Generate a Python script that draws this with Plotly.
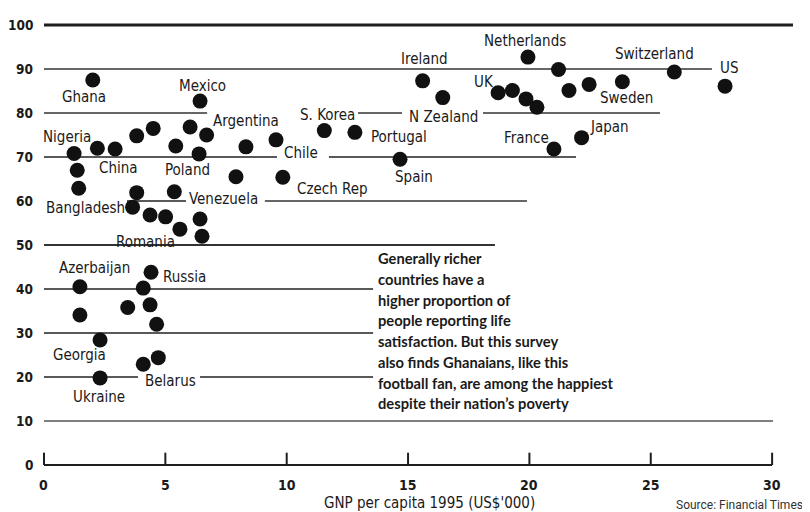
import plotly.graph_objects as go

# ---- data -------------------------------------------------------------
gnp_per_capita = [2.01, 6.43, 4.50, 3.82, 6.02, 6.70, 2.20, 2.93, 5.43, 6.39, 8.32,
                  1.24, 1.37, 1.43, 3.82, 5.37, 7.91, 3.65, 4.37, 5.01, 5.60, 6.43,
                  6.51, 9.56, 9.84, 11.55, 12.81, 14.67, 15.60, 16.43, 19.94, 18.71,
                  19.30, 19.86, 20.31, 21.20, 21.63, 22.46, 23.83, 25.97, 28.06, 21.01,
                  22.15, 1.48, 1.48, 2.31, 2.31, 3.45, 4.09, 4.41, 4.37, 4.64, 4.09, 4.71]
life_satisfaction = [87.5, 82.7, 76.5, 74.8, 76.8, 75.0, 72.0, 71.8, 72.5, 70.7, 72.3,
                     70.8, 67.0, 62.9, 61.9, 62.1, 65.5, 58.6, 56.8, 56.4, 53.6, 55.9,
                     52.0, 73.9, 65.4, 76.0, 75.6, 69.5, 87.3, 83.5, 92.7, 84.6,
                     85.1, 83.2, 81.3, 89.9, 85.1, 86.5, 87.1, 89.3, 86.1, 71.8,
                     74.4, 40.5, 34.1, 28.4, 19.8, 35.8, 40.2, 43.8, 36.4, 32.0, 22.9, 24.4]

country_labels = ["Ghana", "Mexico", "Argentina", "Nigeria", "China", "Poland",
                  "Bangladesh", "Venezuela", "Romania", "Chile", "Czech Rep",
                  "S. Korea", "Portugal", "Spain", "Ireland", "N Zealand",
                  "Netherlands", "UK", "France", "Switzerland", "US", "Sweden",
                  "Japan", "Azerbaijan", "Russia", "Georgia", "Belarus", "Ukraine"]

y_ticks = [0, 10, 20, 30, 40, 50, 60, 70, 80, 90, 100]
x_ticks = [0, 5, 10, 15, 20, 25, 30]
x_title = "GNP per capita 1995 (US$'000)"
source_text = "Source: Financial Times"
note_lines = ["Generally richer", "countries have a", "higher proportion of",
              "people reporting life", "satisfaction. But this survey",
              "also finds Ghanaians, like this", "football fan, are among the happiest",
              "despite their nation\u2019s poverty"]

# ---- layout helpers (positions in data units) --------------------------
label_pos = {
    "Ghana": (1.65, 83.6), "Mexico": (6.55, 86.1), "Argentina": (8.32, 78.2),
    "Nigeria": (0.95, 74.5), "China": (3.05, 67.5), "Poland": (5.93, 67.0),
    "Bangladesh": (1.69, 58.4), "Venezuela": (7.38, 60.5), "Romania": (4.2, 50.7),
    "Chile": (10.59, 70.9), "Czech Rep": (11.87, 62.7), "S. Korea": (11.7, 79.5),
    "Portugal": (14.63, 74.5), "Spain": (15.25, 65.5), "Ireland": (15.66, 92.3),
    "N Zealand": (16.44, 79.1), "Netherlands": (19.8, 96.4), "UK": (18.13, 87.0),
    "France": (19.9, 74.3), "Switzerland": (25.17, 93.4), "US": (28.22, 90.2),
    "Sweden": (23.98, 83.4), "Japan": (23.28, 76.8), "Azerbaijan": (2.1, 44.8),
    "Russia": (5.77, 42.7), "Georgia": (1.48, 25.0), "Belarus": (5.23, 19.1),
    "Ukraine": (2.27, 15.5),
}

# horizontal reference lines broken around labels: (y, x0, x1, width, colour)
grid_segments = [
    (100, 0, 30.86, 3.0, "#1e1e1e"),
    (90, 0, 27.52, 1.5, "#333333"),
    (80, 0, 6.72, 1.5, "#333333"), (80, 12.94, 14.75, 1.5, "#333333"),
    (80, 18.09, 25.38, 1.5, "#333333"),
    (70, 0, 9.6, 1.7, "#222222"), (70, 11.74, 21.92, 1.7, "#222222"),
    (60, 3.42, 5.85, 1.7, "#222222"), (60, 9.1, 19.9, 1.5, "#333333"),
    (50, 0, 18.58, 1.8, "#333333"),
    (40, 0, 13.56, 1.7, "#222222"),
    (30, 0, 13.56, 1.7, "#222222"),
    (20, 0, 3.87, 1.7, "#222222"), (20, 6.43, 13.56, 1.7, "#222222"),
    (10, 0, 30.04, 1.6, "#555555"),
]

LABEL_FONT = "Liberation Sans Narrow, DejaVu Sans Condensed, Arial Narrow, sans-serif"
NOTE_FONT = "Lato, Open Sans, sans-serif"

fig = go.Figure()
fig.add_trace(go.Scatter(
    x=gnp_per_capita, y=life_satisfaction, mode="markers",
    marker=dict(size=15, color="#111111", line=dict(width=0)),
    hoverinfo="x+y", showlegend=False, cliponaxis=False,
))

shapes = []
for y, x0, x1, w, c in grid_segments:
    shapes.append(dict(type="line", xref="x", yref="y", x0=x0, x1=x1, y0=y, y1=y,
                       line=dict(color=c, width=w), layer="below"))
# x axis baseline with upward ticks
shapes.append(dict(type="line", xref="x", yref="y", x0=x_ticks[0], x1=x_ticks[-1],
                   y0=0, y1=0, line=dict(color="#1e1e1e", width=2), layer="below"))
for t in x_ticks:
    shapes.append(dict(type="line", xref="x", yref="y", x0=t, x1=t, y0=0, y1=2.8,
                       line=dict(color="#1e1e1e", width=2), layer="below"))

annotations = []
for name in country_labels:
    lx, ly = label_pos[name]
    annotations.append(dict(x=lx, y=ly, xref="x", yref="y", text=name, showarrow=False,
                            xanchor="center", yanchor="middle",
                            font=dict(family=LABEL_FONT, size=15, color="#1a1a1a")))
for t in y_ticks:
    annotations.append(dict(x=-0.37, y=t, xref="x", yref="y", text=str(t), showarrow=False,
                            xanchor="right", yanchor="middle",
                            font=dict(family=LABEL_FONT, size=13.5, color="#1a1a1a",
                                      weight="bold")))
for t in x_ticks:
    annotations.append(dict(x=t, y=-4.6, xref="x", yref="y", text=str(t), showarrow=False,
                            xanchor="center", yanchor="middle",
                            font=dict(family=LABEL_FONT, size=14, color="#1a1a1a",
                                      weight="bold")))
annotations.append(dict(x=15.9, y=-8.7, xref="x", yref="y", text=x_title, showarrow=False,
                        xanchor="center", yanchor="middle",
                        font=dict(family=LABEL_FONT, size=15, color="#1a1a1a")))
annotations.append(dict(x=31.35, y=-9.0, xref="x", yref="y", text=source_text,
                        showarrow=False, xanchor="right", yanchor="middle",
                        font=dict(family="Roboto, sans-serif", size=12, color="#333333")))
for i, line in enumerate(note_lines):
    py = 258.3 + 20.7 * i
    annotations.append(dict(x=13.68, y=(465 - py) / 4.4, xref="x", yref="y", text=line,
                            showarrow=False, xanchor="left", yanchor="middle",
                            font=dict(family=NOTE_FONT, size=14.7, color="#1a1a1a",
                                      weight="bold")))

# the page body has an 8px margin, so the figure is 8px smaller than the window
fig.update_layout(
    width=802, height=504, margin=dict(l=0, r=0, t=0, b=0),
    paper_bgcolor="white", plot_bgcolor="white",
    xaxis=dict(range=[-1.483, 31.561], visible=False, fixedrange=True),
    yaxis=dict(range=[-10.68, 103.86], visible=False, fixedrange=True),
    shapes=shapes, annotations=annotations, showlegend=False,
)

fig.write_html("out.html")
